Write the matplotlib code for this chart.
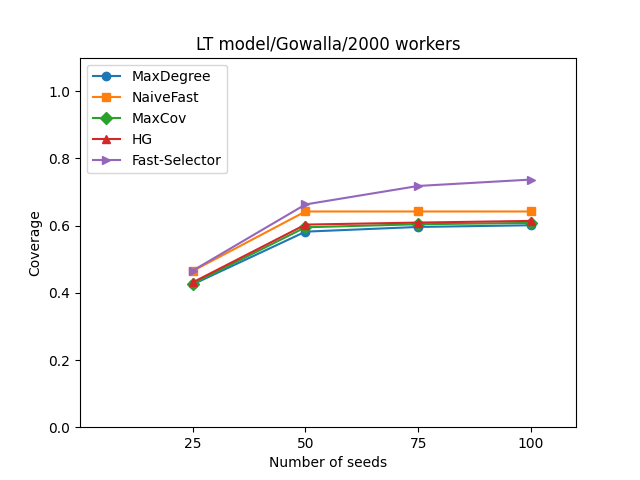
import matplotlib
matplotlib.use("Agg")
import matplotlib.pyplot as plt

seeds = [25, 50, 75, 100]
max_degree = [0.425, 0.582, 0.596, 0.601]
naive_fast = [0.465, 0.642, 0.642, 0.642]
max_cov = [0.427, 0.595, 0.604, 0.608]
hg = [0.431, 0.603, 0.609, 0.614]
fast_selector = [0.466, 0.663, 0.718, 0.737]

fig, ax = plt.subplots(figsize=(6.4, 4.8), dpi=100)
ax.plot(seeds, max_degree, marker='o', label='MaxDegree')
ax.plot(seeds, naive_fast, marker='s', label='NaiveFast')
ax.plot(seeds, max_cov, marker='D', label='MaxCov')
ax.plot(seeds, hg, marker='^', label='HG')
ax.plot(seeds, fast_selector, marker='>', label='Fast-Selector')
ax.set_xlim(0, 110)
ax.set_ylim(0, 1.1)
ax.set_xticks(seeds)
ax.set_xlabel('Number of seeds')
ax.set_ylabel('Coverage')
ax.set_title('LT model/Gowalla/2000 workers')
ax.legend(loc='upper left')
fig.savefig('out.png')
